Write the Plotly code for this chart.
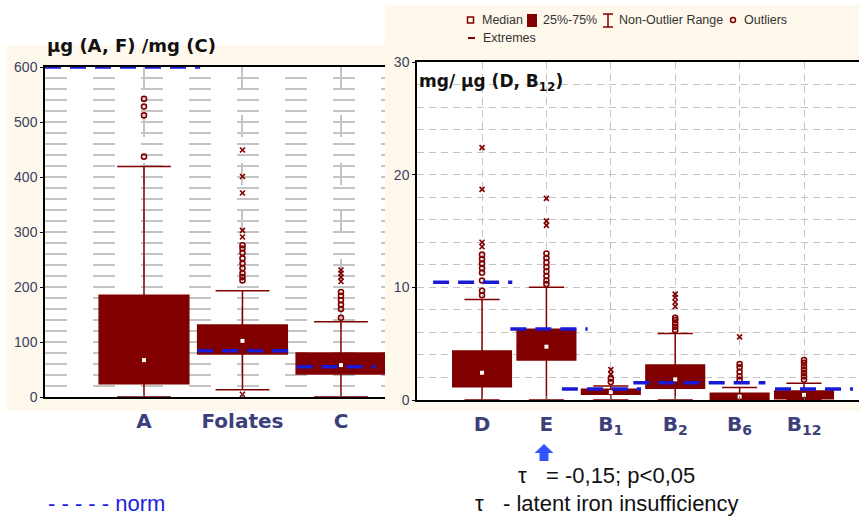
import plotly.graph_objects as go

# ---------------- data ----------------
left_cats = ["A", "Folates", "C"]
left_q1 = [24, 78, 42]
left_median = [67, 102, 58]
left_q3 = [185, 131, 80]
left_lower = [0, 13, 0]
left_upper = [419, 193, 137]
left_outliers = [
    [437, 512, 528, 542],
    [212, 218, 225, 234, 243, 252, 262, 270, 276],
    [144, 160, 168, 176, 184, 191],
]
left_extremes = [
    [],
    [5, 291, 303, 371, 401, 449],
    [210, 218, 225, 231],
]
left_norm = [600, 84, 55]

right_cats = ["D", "E", "B<sub>1</sub>", "B<sub>2</sub>", "B<sub>6</sub>", "B<sub>12</sub>"]
right_q1 = [1.18, 3.55, 0.5, 1.04, 0.02, 0.1]
right_median = [2.42, 4.73, 0.7, 1.83, 0.3, 0.45]
right_q3 = [4.35, 6.27, 0.95, 3.1, 0.6, 0.8]
right_lower = [0, 0, 0, 0, 0, 0]
right_upper = [8.93, 10.0, 1.24, 5.9, 1.1, 1.48]
right_outliers = [
    [9.3, 9.7, 10.6, 11.3, 11.7, 12.1, 12.5, 12.9],
    [10.3, 10.6, 11.0, 11.4, 11.8, 12.2, 12.6, 13.0],
    [1.6, 1.9],
    [6.2, 6.5, 6.8, 7.1, 7.3],
    [1.8, 2.1, 2.5, 2.9, 3.2],
    [1.8, 2.1, 2.4, 2.7, 3.0, 3.3, 3.55],
]
right_extremes = [
    [13.6, 14.0, 18.7, 22.4],
    [15.5, 15.9, 17.9],
    [2.3, 2.7],
    [8.3, 8.7, 9.1, 9.4],
    [5.6],
    [],
]
right_norm = [10.45, 6.3, 0.98, 1.53, 1.53, 0.98]

legend_labels = ["Median", "25%-75%", "Non-Outlier Range", "Outliers", "Extremes"]

# ---------------- styles / layout constants ----------------
MAROON = "#800000"
BLUE = "#1a1ad6"
CREAM = "#FFF8EC"
TICKCOL = "#3a3f5c"
CATCOL = "#3d3f7a"
W, H = 859, 520
BOLDFONT = "DejaVu Sans, Verdana, sans-serif"

# norm line extents (offset from category centre, in category units)
left_norm_ext = [(-1.005, 0.57), (-0.46, 0.48), (-0.45, 0.35)]
right_norm_ext = [(-0.76, 0.47), (-0.56, 0.64), (-0.76, 0.47), (-0.65, 0.48), (-0.48, 0.4), (-0.45, 0.76)]

fig = go.Figure()


def add_panel(xa, ya, cats, q1, med, q3, lo, up, outl, extr, norms, ext):
    xs = list(range(len(cats)))
    fig.add_trace(go.Box(
        x=xs, q1=q1, median=med, q3=q3, lowerfence=lo, upperfence=up,
        boxpoints=False, width=0.91, whiskerwidth=0.6,
        fillcolor=MAROON, line=dict(color=MAROON, width=1.5),
        xaxis=xa, yaxis=ya, showlegend=False, hoverinfo="skip"))
    fig.add_trace(go.Scatter(
        x=xs, y=med, mode="markers", xaxis=xa, yaxis=ya, showlegend=False,
        marker=dict(symbol="square", size=4, color="white"), hoverinfo="skip"))
    ox, oy, ex, ey = [], [], [], []
    for i in xs:
        ox += [i] * len(outl[i]); oy += outl[i]
        ex += [i] * len(extr[i]); ey += extr[i]
    fig.add_trace(go.Scatter(
        x=ox, y=oy, mode="markers", xaxis=xa, yaxis=ya, showlegend=False,
        marker=dict(symbol="circle-open", size=5, color=MAROON, line=dict(width=1.6)),
        hoverinfo="skip"))
    fig.add_trace(go.Scatter(
        x=ex, y=ey, mode="markers", xaxis=xa, yaxis=ya, showlegend=False,
        marker=dict(symbol="x-thin-open", size=5, color=MAROON, line=dict(width=1.6, color=MAROON)),
        hoverinfo="skip"))
    for i in xs:
        a, b = ext[i]
        fig.add_trace(go.Scatter(
            x=[i + a, i + b], y=[norms[i], norms[i]], mode="lines",
            xaxis=xa, yaxis=ya, showlegend=False, cliponaxis=False,
            line=dict(color=BLUE, width=3.5, dash="16px,9px"), hoverinfo="skip"))


add_panel("x", "y", left_cats, left_q1, left_median, left_q3, left_lower, left_upper,
          left_outliers, left_extremes, left_norm, left_norm_ext)
add_panel("x2", "y2", right_cats, right_q1, right_median, right_q3, right_lower, right_upper,
          right_outliers, right_extremes, right_norm, right_norm_ext)

px = lambda v: v / W
py = lambda v: 1 - v / H

grid_left = dict(gridcolor="#c4c4c4", gridwidth=1.5, griddash="22px,26px")
grid_right = dict(gridcolor="#c4c4c4", gridwidth=1.3, griddash="7px,5px")


def prect(x0, x1, y0, y1, fill, line_w=0, line_c=MAROON, layer="above"):
    return dict(type="rect", xref="paper", yref="paper", x0=px(x0), x1=px(x1),
                y0=py(y1), y1=py(y0), fillcolor=fill,
                line=dict(width=line_w, color=line_c), layer=layer)


def pline(x0, y0, x1, y1, w=1.5, c=MAROON):
    return dict(type="line", xref="paper", yref="paper", x0=px(x0), x1=px(x1),
                y0=py(y0), y1=py(y1), line=dict(width=w, color=c))


def ppath(points, fill):
    d = "M " + " L ".join("%.5f,%.5f" % (px(a), py(b)) for a, b in points) + " Z"
    return dict(type="path", xref="paper", yref="paper", path=d, fillcolor=fill,
                line=dict(width=0))


arrow_pts = [(544, 444), (553.5, 453), (548.5, 453), (548.5, 461),
             (539.5, 461), (539.5, 453), (534.5, 453)]

shapes = [
    prect(7, 385, 45, 411, CREAM, layer="below"),
    prect(385, W, 5, 411, CREAM, layer="below"),
    dict(type="rect", xref="x domain", yref="y domain", x0=0, x1=1, y0=0, y1=1,
         fillcolor="white", line=dict(width=0), layer="below"),
    dict(type="rect", xref="x2 domain", yref="y2 domain", x0=0, x1=1, y0=0, y1=1,
         fillcolor="white", line=dict(width=0), layer="below"),
    # legend symbols
    prect(467.5, 473.5, 17, 23, "rgba(0,0,0,0)", line_w=1.5),
    prect(527, 537, 14, 27, MAROON),
    pline(608, 14, 608, 27), pline(603, 14, 613, 14), pline(603, 27, 613, 27),
    dict(type="circle", xref="paper", yref="paper", x0=px(730.5), x1=px(735.5),
         y0=py(22.5), y1=py(17.5), line=dict(width=1.5, color=MAROON)),
    pline(468, 38, 475, 38, w=2),
    ppath(arrow_pts, "#3355ff"),
]

fig.update_layout(
    template="none",
    width=W, height=H, margin=dict(l=0, r=0, t=0, b=0, pad=0),
    paper_bgcolor="white", plot_bgcolor="white", showlegend=False,
    font=dict(family="Liberation Sans, Arial, sans-serif", color="#222"),
    xaxis=dict(domain=[px(45), px(385)], range=[-1.005, 2.447], tickvals=[0, 1, 2],
               ticktext=["<b>%s</b>" % c for c in left_cats], automargin=False,
               showline=True, linecolor="black", linewidth=1.5,
               mirror=True, ticks="inside", ticklen=4, tickcolor="#666",
               showgrid=True, **grid_left, zeroline=False, ticklabelstandoff=5,
               tickfont=dict(size=20, color=CATCOL, family=BOLDFONT),
               anchor="y"),
    yaxis=dict(domain=[py(397), py(67)], range=[0, 600], tickvals=[0, 100, 200, 300, 400, 500, 600],
               automargin=False,
               showline=True, linecolor="black", linewidth=1.5, ticks="outside", ticklen=3,
               tickcolor="black",
               showgrid=True, **grid_left, zeroline=False,
               minor=dict(dtick=20, showgrid=True, **grid_left),
               tickfont=dict(size=14, color=TICKCOL), anchor="x"),
    xaxis2=dict(domain=[px(417), 1.0], range=[-1.01, 5.854], tickvals=list(range(6)),
                ticktext=["<b>%s</b>" % c for c in right_cats], automargin=False,
                showline=True, linecolor="black", linewidth=1.5,
                mirror=True, ticks="inside", ticklen=4, tickcolor="#666",
                showgrid=True, **grid_right, zeroline=False, ticklabelstandoff=5,
                tickfont=dict(size=20, color=CATCOL, family=BOLDFONT),
                anchor="y2"),
    yaxis2=dict(domain=[py(400), py(62)], range=[0, 30], tickvals=[0, 10, 20, 30],
                automargin=False,
                showline=True, linecolor="black", linewidth=1.5, ticks="outside", ticklen=3,
                tickcolor="black",
                showgrid=True, **grid_right, zeroline=False,
                minor=dict(dtick=2, showgrid=True, **grid_right),
                tickfont=dict(size=14, color=TICKCOL), anchor="x2"),
    shapes=shapes,
)

# legend texts
leg_pos = [(480, 20), (541, 20), (617, 20), (742, 20), (481, 38)]
for lab, (lx, ly) in zip(legend_labels, leg_pos):
    fig.add_annotation(xref="paper", yref="paper", x=px(lx), y=py(ly), xanchor="left",
                       yanchor="middle", text=lab, showarrow=False,
                       font=dict(size=12.5, color="#333"))

fig.add_annotation(xref="paper", yref="paper", x=px(45), y=py(45), xanchor="left", yanchor="middle",
                   text="<b>µg (A, F) /mg (C)</b>", showarrow=False,
                   font=dict(size=18, color="#111", family=BOLDFONT))
fig.add_annotation(xref="paper", yref="paper", x=px(417), y=py(82), xanchor="left", yanchor="middle",
                   text="<b>mg/ µg (D, B<sub>12</sub>)</b>", showarrow=False,
                   font=dict(size=17, color="#111", family=BOLDFONT))

TXT = dict(size=22, color="#111")
fig.add_annotation(xref="paper", yref="paper", x=px(516), y=py(475), xanchor="left", yanchor="middle",
                   text="τ", showarrow=False, font=TXT)
fig.add_annotation(xref="paper", yref="paper", x=px(544), y=py(475), xanchor="left", yanchor="middle",
                   text="= -0,15; p<0,05", showarrow=False, font=TXT)
fig.add_annotation(xref="paper", yref="paper", x=px(473), y=py(503), xanchor="left", yanchor="middle",
                   text="τ", showarrow=False, font=TXT)
fig.add_annotation(xref="paper", yref="paper", x=px(501), y=py(503), xanchor="left", yanchor="middle",
                   text="- latent iron insufficiency", showarrow=False, font=TXT)
fig.add_annotation(xref="paper", yref="paper", x=px(46), y=py(503), xanchor="left", yanchor="middle",
                   text="- - - - - norm", showarrow=False,
                   font=dict(size=22, color="#2020e0"))

fig.write_html("out.html", config={"displayModeBar": False},
               post_script="document.body.style.margin='0';")
